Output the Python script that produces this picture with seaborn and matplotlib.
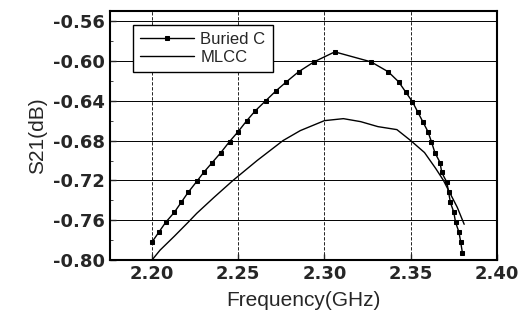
import numpy as np
import pandas as pd
import seaborn as sns
import matplotlib.pyplot as plt

# S21 of a buried capacitor vs an MLCC
buried_freq = [2.200, 2.204, 2.208, 2.213, 2.217, 2.221, 2.226, 2.230, 2.235,
               2.240, 2.245, 2.250, 2.255, 2.260, 2.266, 2.272, 2.278, 2.285,
               2.294, 2.306, 2.327, 2.337, 2.343, 2.347, 2.351, 2.354, 2.357,
               2.360, 2.362, 2.364, 2.367, 2.368, 2.371, 2.372, 2.373, 2.375,
               2.376, 2.378, 2.379, 2.380]
buried_s21 = [-0.782, -0.772, -0.762, -0.752, -0.742, -0.732, -0.721, -0.712, -0.702,
              -0.692, -0.681, -0.671, -0.660, -0.650, -0.640, -0.630, -0.621, -0.611,
              -0.601, -0.591, -0.601, -0.611, -0.621, -0.631, -0.641, -0.651, -0.661,
              -0.671, -0.681, -0.692, -0.702, -0.712, -0.722, -0.732, -0.742, -0.752,
              -0.762, -0.772, -0.782, -0.793]

mlcc_freq = [2.200, 2.2047, 2.213, 2.221, 2.226, 2.236, 2.247, 2.261, 2.276, 2.286,
             2.300, 2.311, 2.321, 2.331, 2.342, 2.350, 2.358, 2.3645, 2.369, 2.377, 2.381]
mlcc_s21 = [-0.800, -0.790, -0.776, -0.762, -0.753, -0.737, -0.720, -0.700, -0.680, -0.670,
            -0.660, -0.658, -0.661, -0.666, -0.669, -0.680, -0.692, -0.708, -0.720, -0.747, -0.764]

xticks = ["2.20", "2.25", "2.30", "2.35", "2.40"]
yticks = ["-0.80", "-0.76", "-0.72", "-0.68", "-0.64", "-0.60", "-0.56"]

df_b = pd.DataFrame({"f": buried_freq, "s": buried_s21})
df_m = pd.DataFrame({"f": mlcc_freq, "s": mlcc_s21})

sns.set_style("ticks")
plt.rcParams['font.family'] = ['Liberation Sans', 'DejaVu Sans']

fig, ax = plt.subplots(figsize=(5.27, 3.24), dpi=100)
sns.lineplot(data=df_b, x="f", y="s", ax=ax, color="black", lw=1.0,
             marker="s", markersize=3.5, markeredgecolor="black", label="Buried C")
sns.lineplot(data=df_m, x="f", y="s", ax=ax, color="black", lw=1.0, label="MLCC")

ax.set_xlim(2.1755, 2.40)
ax.set_ylim(-0.80, -0.55)
ax.set_xticks([float(t) for t in xticks])
ax.set_yticks([float(t) for t in yticks])
ax.set_yticks(np.arange(-0.80, -0.549, 0.02), minor=True)
ax.set_xticklabels(xticks, fontweight="bold", fontsize=13, family="DejaVu Sans")
ax.set_yticklabels(yticks, fontweight="bold", fontsize=13, family="DejaVu Sans")
ax.tick_params(direction="in", length=4, width=1)
ax.tick_params(which="minor", direction="in", length=2)
ax.grid(axis="y", color="black", lw=0.7)
ax.grid(axis="x", color="black", lw=0.6, ls=(0, (4, 2)))

for s in ax.spines.values():
    s.set_linewidth(1.5)
    s.set_color("black")

ax.set_xlabel("Frequency(GHz)", fontsize=15, labelpad=6)
ax.set_ylabel("S21(dB)", fontsize=15, labelpad=4)

leg = ax.legend(loc="upper left", bbox_to_anchor=(0.06, 0.945), frameon=True, fancybox=False,
                edgecolor="black", fontsize=12, handlelength=3.2, borderpad=0.45,
                labelspacing=0.15, handletextpad=0.4, borderaxespad=0)
leg.get_frame().set_linewidth(1.0)
leg.get_frame().set_alpha(1)

fig.subplots_adjust(left=0.208, right=0.943, top=0.966, bottom=0.197)
fig.savefig("out.png", dpi=100)
